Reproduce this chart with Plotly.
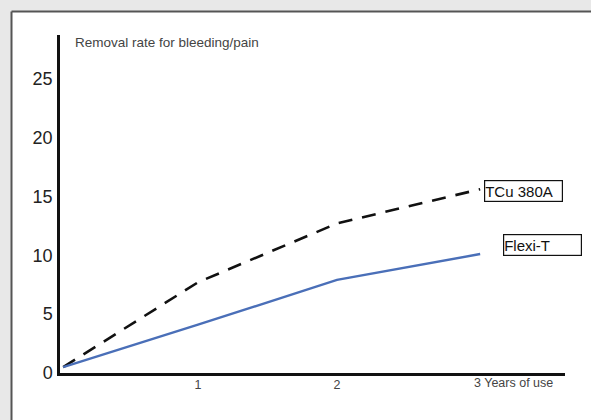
import plotly.graph_objects as go

years = [0.03, 1, 2, 3.03]
tcu_380a = [0.5, 7.7, 12.7, 15.6]
flexi_t = [0.5, 4.1, 7.9, 10.1]
y_ticks = [0, 5, 10, 15, 20, 25]
x_ticks = [1, 2]
x_tick_text = ["1", "2"]
series_names = ["TCu 380A", "Flexi-T"]
y_title = "Removal rate for bleeding/pain"
x_last_label = "3 Years of use"

FONT = "Liberation Sans, Arial, sans-serif"

fig = go.Figure()
fig.add_trace(go.Scatter(x=years, y=tcu_380a, mode="lines", name=series_names[0],
                         line=dict(color="#111111", width=2.6, dash="14px,10px")))
fig.add_trace(go.Scatter(x=years, y=flexi_t, mode="lines", name=series_names[1],
                         line=dict(color="#4a6fb8", width=2.4)))

L, R, T, B = 60, 26, 35, 47
W, H = 591, 420
pw, ph = W - L - R, H - T - B

def px2paper_x(px):
    return (px - L) / pw

def px2paper_y(py):
    return (H - B - py) / ph

GREY = "#e8e8e8"
# grey page strips (top and left) and panel border
fig.add_shape(type="rect", xref="paper", yref="paper",
              x0=px2paper_x(-5), x1=px2paper_x(W + 5), y0=px2paper_y(11), y1=px2paper_y(-5),
              fillcolor=GREY, line=dict(width=0), layer="below")
fig.add_shape(type="rect", xref="paper", yref="paper",
              x0=px2paper_x(-5), x1=px2paper_x(11), y0=px2paper_y(H + 5), y1=px2paper_y(-5),
              fillcolor=GREY, line=dict(width=0), layer="below")
fig.add_shape(type="line", xref="paper", yref="paper",
              x0=px2paper_x(11.5), x1=px2paper_x(W + 5), y0=px2paper_y(11.5), y1=px2paper_y(11.5),
              line=dict(color="#555555", width=2), layer="below")
fig.add_shape(type="line", xref="paper", yref="paper",
              x0=px2paper_x(11.5), x1=px2paper_x(11.5), y0=px2paper_y(11.5), y1=px2paper_y(H + 5),
              line=dict(color="#555555", width=2), layer="below")

fig.add_annotation(x=3.34, y=15.45, xref="x", yref="y", text=series_names[0],
                   showarrow=False, width=77, height=20, align="left",
                   xanchor="center", yanchor="middle",
                   bordercolor="#111111", borderwidth=1.2, borderpad=0, bgcolor="white",
                   font=dict(family=FONT, size=15, color="#111111"))
fig.add_annotation(x=3.475, y=10.85, xref="x", yref="y", text=series_names[1],
                   showarrow=False, width=77, height=20, align="left",
                   xanchor="center", yanchor="middle",
                   bordercolor="#111111", borderwidth=1.2, borderpad=0, bgcolor="white",
                   font=dict(family=FONT, size=15, color="#111111"))

fig.add_annotation(x=px2paper_x(73), y=px2paper_y(42), xref="paper", yref="paper",
                   text=y_title, showarrow=False, xanchor="left", yanchor="middle",
                   font=dict(family=FONT, size=13.5, color="#444444"))
fig.add_annotation(x=3, y=px2paper_y(383), xref="x", yref="paper",
                   text=x_last_label, showarrow=False, xanchor="left", yanchor="middle",
                   xshift=-4, font=dict(family=FONT, size=12.5, color="#444444"))

fig.update_layout(
    width=W, height=H,
    margin=dict(l=L, r=R, t=T, b=B),
    paper_bgcolor="white",
    plot_bgcolor="rgba(0,0,0,0)",
    showlegend=False,
    xaxis=dict(range=[(L - 59) / 139, (W - R - 59) / 139], tickvals=x_ticks, ticktext=x_tick_text,
               showgrid=False, zeroline=False, showline=True, linecolor="#111111", linewidth=2.5,
               ticks="", ticklabelstandoff=-2, tickfont=dict(family=FONT, size=12.5, color="#444444")),
    yaxis=dict(range=[(373 - (H - B)) / 11.78, (373 - T) / 11.78], tickvals=y_ticks,
               showgrid=False, zeroline=False, showline=True, linecolor="#111111", linewidth=2.5,
               ticks="", ticklabelstandoff=1, tickfont=dict(family=FONT, size=18, color="#222222")),
)

fig.write_html("out.html", config={"displayModeBar": False},
               post_script="document.body.style.margin='0';document.body.style.overflow='hidden';"
                           "document.documentElement.style.overflow='hidden';")
